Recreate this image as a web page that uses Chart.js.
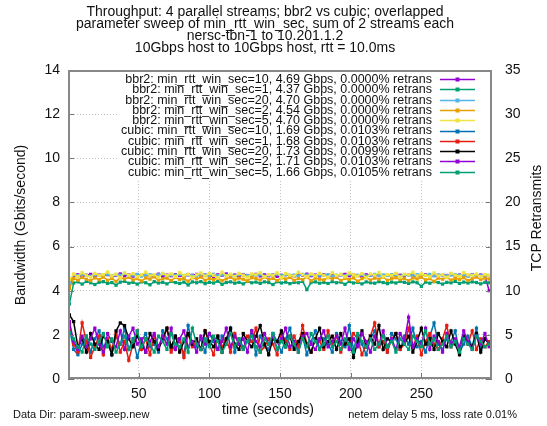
<!DOCTYPE html>
<html><head><meta charset="utf-8">
<script src="https://cdn.jsdelivr.net/npm/chart.js@4"></script>
<style>html,body{margin:0;padding:0;background:#fff}canvas{display:block}</style>
</head><body><canvas id="c" width="547" height="426"></canvas>
<script>
const titleLines = [
  "Throughput: 4 parallel streams; bbr2 vs cubic; overlapped",
  "parameter sweep of min_rtt_win_sec, sum of 2 streams each",
  "nersc-tbn-1 to 10.201.1.2",
  "10Gbps host to 10Gbps host, rtt = 10.0ms"
];
const seriesLabels = [
  "bbr2: min_rtt_win_sec=10, 4.69 Gbps, 0.0000% retrans",
  "bbr2: min_rtt_win_sec=1, 4.37 Gbps, 0.0000% retrans",
  "bbr2: min_rtt_win_sec=20, 4.70 Gbps, 0.0000% retrans",
  "bbr2: min_rtt_win_sec=2, 4.54 Gbps, 0.0000% retrans",
  "bbr2: min_rtt_win_sec=5, 4.70 Gbps, 0.0000% retrans",
  "cubic: min_rtt_win_sec=10, 1.69 Gbps, 0.0103% retrans",
  "cubic: min_rtt_win_sec=1, 1.68 Gbps, 0.0103% retrans",
  "cubic: min_rtt_win_sec=20, 1.73 Gbps, 0.0099% retrans",
  "cubic: min_rtt_win_sec=2, 1.71 Gbps, 0.0103% retrans",
  "cubic: min_rtt_win_sec=5, 1.66 Gbps, 0.0105% retrans"
];
const colors = ['#9400d3','#009e73','#56b4e9','#e69f00','#f0e442','#0072b2','#e51e10','#000000','#9400d3','#009e73'];
const xTicks = [50,100,150,200,250];
const yTicks = [0,2,4,6,8,10,12,14];
const y2Ticks = [0,5,10,15,20,25,30,35];

const times = [1,4,7,10,13,16,19,22,25,28,31,34,37,40,43,46,49,52,55,58,61,64,67,70,73,76,79,82,85,88,91,94,97,100,103,106,109,112,115,118,121,124,127,130,133,136,139,142,145,148,151,154,157,160,163,166,169,172,175,178,181,184,187,190,193,196,199,202,205,208,211,214,217,220,223,226,229,232,235,238,241,244,247,250,253,256,259,262,265,268,271,274,277,280,283,286,289,292,295,298];

const bbr2_10 = [4.2,4.68,4.72,4.65,4.70,4.74,4.66,4.71,4.69,4.73,4.64,4.70,4.76,4.68,4.71,4.66,4.73,4.69,4.72,4.67,4.70,4.75,4.65,4.71,4.68,4.73,4.69,4.66,4.72,4.70,4.74,4.67,4.71,4.69,4.65,4.72,4.70,4.76,4.68,4.71,4.66,4.73,4.69,4.70,4.74,4.67,4.72,4.68,4.71,4.65,4.70,4.73,4.69,4.66,4.72,4.70,4.75,4.68,4.71,4.67,4.73,4.69,4.70,4.66,4.72,4.74,4.68,4.71,4.69,4.65,4.72,4.70,4.67,4.73,4.69,4.71,4.66,4.74,4.70,4.68,4.72,4.69,4.65,4.71,4.73,4.68,4.70,4.67,4.72,4.69,4.74,4.66,4.71,4.70,4.68,4.73,4.69,4.71,4.67,4.0];
const bbr2_1 = [3.4,4.35,4.40,4.30,4.42,4.36,4.28,4.38,4.41,4.33,4.37,4.25,4.39,4.43,4.34,4.38,4.30,4.40,4.36,4.27,4.41,4.35,4.38,4.31,4.42,4.37,4.33,4.39,4.26,4.40,4.36,4.41,4.32,4.38,4.35,4.43,4.29,4.37,4.40,4.34,4.38,4.31,4.42,4.36,4.39,4.33,4.40,4.37,4.28,4.41,4.35,4.39,4.32,4.38,4.36,4.42,4.05,4.37,4.40,4.34,4.38,4.33,4.41,4.36,4.39,4.29,4.42,4.35,4.38,4.31,4.40,4.36,4.34,4.41,4.37,4.32,4.39,4.35,4.42,4.38,4.33,4.40,4.36,4.20,4.39,4.34,4.41,4.37,4.30,4.38,4.36,4.42,4.33,4.39,4.35,4.40,4.37,4.31,4.38,4.36];
const bbr2_20 = [4.3,4.72,4.68,4.74,4.70,4.66,4.73,4.69,4.71,4.75,4.67,4.72,4.70,4.78,4.68,4.71,4.74,4.66,4.70,4.73,4.69,4.72,4.76,4.67,4.71,4.70,4.74,4.68,4.72,4.69,4.66,4.73,4.71,4.70,4.75,4.68,4.72,4.69,4.71,4.67,4.74,4.70,4.68,4.72,4.69,4.73,4.66,4.71,4.70,4.75,4.68,4.72,4.69,4.71,4.67,4.74,4.70,4.72,4.68,4.71,4.69,4.73,4.66,4.70,4.72,4.68,4.75,4.71,4.69,4.72,4.67,4.70,4.74,4.68,4.71,4.69,4.73,4.70,4.66,4.72,4.70,4.68,4.73,4.71,4.69,4.74,4.67,4.72,4.70,4.68,4.71,4.73,4.69,4.70,4.66,4.72,4.70,4.68,4.71,4.69];
const bbr2_2 = [4.1,4.55,4.48,4.60,4.52,4.45,4.58,4.50,4.62,4.47,4.56,4.42,4.59,4.53,4.61,4.49,4.55,4.44,4.58,4.52,4.63,4.48,4.54,4.57,4.46,4.60,4.51,4.55,4.43,4.59,4.53,4.62,4.47,4.56,4.50,4.58,4.45,4.54,4.61,4.49,4.57,4.52,4.44,4.59,4.55,4.48,4.62,4.51,4.56,4.46,4.58,4.53,4.60,4.47,4.55,4.50,4.63,4.45,4.57,4.52,4.49,4.59,4.54,4.61,4.46,4.56,4.51,4.58,4.43,4.55,4.60,4.48,4.57,4.52,4.62,4.47,4.54,4.59,4.50,4.56,4.45,4.58,4.53,4.61,4.49,4.55,4.42,4.57,4.52,4.60,4.48,4.56,4.51,4.59,4.46,4.54,4.62,4.50,4.57,4.53];
const bbr2_5 = [4.5,4.76,4.64,4.82,4.70,4.61,4.79,4.69,4.73,4.85,4.66,4.75,4.58,4.81,4.70,4.78,4.63,4.72,4.84,4.67,4.73,4.60,4.79,4.70,4.76,4.64,4.82,4.69,4.75,4.61,4.72,4.81,4.66,4.78,4.70,4.58,4.84,4.67,4.75,4.64,4.79,4.70,4.61,4.76,4.72,4.82,4.63,4.73,4.69,4.81,4.60,4.78,4.70,4.66,4.84,4.72,4.64,4.76,4.67,4.79,4.70,4.61,4.82,4.69,4.75,4.63,4.81,4.72,4.66,4.78,4.58,4.76,4.70,4.82,4.64,4.73,4.69,4.79,4.61,4.75,4.72,4.84,4.66,4.76,4.70,4.63,4.81,4.67,4.73,4.60,4.79,4.70,4.64,4.82,4.72,4.69,4.76,4.63,4.73,4.70];
const cubic_10 = [2.3,1.34,1.1,1.58,1.94,1.22,1.82,2.18,1.46,1.7,1.1,1.94,1.58,2.3,1.34,1.82,0.98,1.7,2.06,1.46,1.58,1.22,2.18,1.82,1.34,1.94,1.7,1.1,2.42,1.58,1.46,1.82,1.22,2.06,1.7,1.34,1.94,1.58,2.3,1.22,1.82,1.46,1.7,2.18,1.1,1.94,1.58,1.34,2.06,1.7,1.22,1.82,2.3,1.46,1.58,1.94,1.1,1.7,2.18,1.34,1.82,1.58,1.22,2.06,1.7,1.46,2.42,1.34,1.94,1.58,1.1,1.82,2.18,1.46,1.7,1.22,2.06,1.82,1.34,1.94,1.58,2.3,1.46,1.7,1.22,1.94,2.54,1.58,1.34,1.82,1.7,2.18,1.22,1.58,1.94,1.46,2.3,1.34,1.82,1.58];
const cubic_1 = [2.5,1.58,1.22,2.54,1.7,0.98,1.46,1.94,1.1,1.82,1.34,2.06,1.22,1.7,0.85,1.58,2.18,1.34,1.82,1.1,1.94,1.46,1.7,2.3,1.22,1.58,1.82,0.98,2.06,1.46,1.7,1.34,2.18,1.58,1.1,1.94,1.46,1.82,1.22,2.06,1.58,1.34,1.94,1.7,2.3,1.22,1.46,1.82,1.58,1.1,2.06,1.7,1.34,1.94,1.46,2.42,1.58,1.22,1.82,1.7,1.34,2.18,1.58,1.94,1.22,1.7,1.46,2.06,1.82,1.1,1.58,1.94,2.54,1.46,1.7,1.22,1.82,2.06,1.34,1.58,2.3,1.46,1.94,1.1,1.7,2.06,1.58,1.34,1.82,2.42,1.46,1.7,1.22,1.94,1.58,2.18,1.34,1.82,1.46,1.7];
const cubic_20 = [2.9,2.6,1.46,1.82,1.22,2.06,1.58,1.34,1.94,1.7,1.1,2.18,2.54,2.42,1.82,1.46,1.94,1.58,1.22,2.06,1.7,1.34,1.82,2.3,1.46,1.94,1.22,1.7,2.06,1.58,1.82,1.34,2.18,1.7,1.46,1.94,1.22,1.82,2.3,1.58,1.34,2.06,1.7,1.46,1.94,2.42,1.58,1.1,1.82,1.7,2.18,1.46,1.94,1.34,1.7,2.06,1.58,1.22,1.82,2.3,1.46,1.7,1.94,1.34,2.06,1.58,1.82,0.98,1.7,2.18,1.46,1.94,1.58,2.42,1.34,1.82,1.7,2.06,1.46,1.58,1.94,1.22,1.7,2.3,1.58,1.82,1.34,2.06,1.7,1.46,2.18,1.58,1.1,1.94,1.7,1.46,2.06,1.22,1.82,1.58];
const cubic_2 = [2.6,1.7,1.34,1.94,1.46,1.82,2.3,1.58,1.22,2.06,1.7,1.46,2.18,1.34,1.94,2.3,1.58,1.82,1.22,1.7,2.06,1.46,1.94,1.58,2.3,1.34,1.82,2.18,1.46,1.7,1.22,1.94,1.58,2.06,1.82,1.34,1.7,2.3,1.46,1.94,1.58,1.82,1.22,2.18,1.7,1.46,2.06,1.58,1.94,1.34,1.82,2.3,1.46,1.7,1.22,1.94,2.06,1.58,1.34,1.82,2.18,1.46,1.7,1.94,1.58,2.3,1.34,1.82,1.46,2.06,1.7,1.22,1.94,1.58,2.18,1.46,1.82,1.34,2.06,1.7,2.8,1.46,1.82,1.58,2.3,1.34,1.94,1.7,1.22,2.06,1.58,1.82,1.46,2.18,1.7,1.34,1.94,1.58,2.06,1.46];
const cubic_5 = [2.1,1.82,1.46,1.22,1.94,1.58,1.34,1.7,2.06,1.46,1.82,1.22,1.58,1.94,1.34,1.7,2.18,1.46,1.82,1.58,1.22,1.94,1.7,1.34,2.06,1.58,1.46,1.82,1.22,2.3,1.58,1.34,1.82,1.46,1.94,1.7,1.22,1.58,2.06,1.46,1.82,1.34,1.7,1.94,1.46,1.22,1.82,1.58,2.06,1.34,1.7,1.46,1.94,1.58,1.22,1.82,1.46,2.06,1.7,1.34,1.58,1.94,1.46,1.7,1.34,1.82,1.58,1.22,2.06,1.7,1.46,1.82,1.34,1.58,1.94,1.46,1.7,1.22,1.82,1.58,1.34,1.94,1.7,1.46,2.18,1.58,1.82,1.34,1.58,1.94,1.46,1.7,1.22,1.82,1.58,1.34,1.94,1.7,1.46,1.58];

const seriesValues = [bbr2_10,bbr2_1,bbr2_20,bbr2_2,bbr2_5,cubic_10,cubic_1,cubic_20,cubic_2,cubic_5];
const FONT = '"Liberation Sans", Arial, Helvetica, sans-serif';

const datasets = seriesValues.map((vals,i)=>({
  label: seriesLabels[i],
  data: vals.map((v,j)=>({x: times[j], y: v})),
  borderColor: colors[i], backgroundColor: colors[i],
  borderWidth: 1.5, pointStyle: 'rect', pointRadius: 2.3, pointBorderWidth: 0,
  pointHoverRadius: 0, order: -i, yAxisID: 'y'
}));

const deco = {
  id: 'deco',
  afterDraw(chart){
    const ctx = chart.ctx, a = chart.chartArea;
    const xs = chart.scales.x, ys = chart.scales.y, y2s = chart.scales.y2;
    ctx.save();
    // inward tick marks
    ctx.strokeStyle = '#777'; ctx.lineWidth = 1;
    ctx.beginPath();
    yTicks.forEach(v=>{ const y = Math.round(ys.getPixelForValue(v))+0.5; ctx.moveTo(a.left, y); ctx.lineTo(a.left+6, y); });
    y2Ticks.forEach(v=>{ const y = Math.round(y2s.getPixelForValue(v))+0.5; ctx.moveTo(a.right, y); ctx.lineTo(a.right-6, y); });
    xTicks.forEach(v=>{ const x = Math.round(xs.getPixelForValue(v))+0.5; ctx.moveTo(x, a.bottom); ctx.lineTo(x, a.bottom-6); ctx.moveTo(x, a.top); ctx.lineTo(x, a.top+6); });
    ctx.stroke();
    // legend (key)
    const rowH = 10.3, top0 = a.top + 9;
    ctx.fillStyle = '#fff';
    ctx.fillRect(118, a.top+1, a.right-119, seriesLabels.length*rowH + 6);
    ctx.font = '12.5px ' + FONT; ctx.textAlign = 'right'; ctx.textBaseline = 'middle';
    seriesLabels.forEach((lab,i)=>{
      const y = top0 + i*rowH;
      ctx.fillStyle = '#111'; ctx.fillText(lab, 432, y+0.5);
      ctx.strokeStyle = colors[i]; ctx.lineWidth = 1.5;
      ctx.beginPath(); ctx.moveTo(440, Math.round(y)+0.5); ctx.lineTo(475, Math.round(y)+0.5); ctx.stroke();
      ctx.fillStyle = colors[i]; ctx.fillRect(455.5, Math.round(y)-1.5, 4, 4);
    });
    // border
    ctx.strokeStyle = '#888'; ctx.lineWidth = 2;
    ctx.strokeRect(a.left+1, a.top+1, a.right-a.left-2, a.bottom-a.top-2);
    // titles
    ctx.fillStyle = '#111'; ctx.textAlign = 'center'; ctx.textBaseline = 'middle';
    ctx.font = '14px ' + FONT;
    const ty = [12, 24, 36, 48.5];
    titleLines.forEach((t,i)=>ctx.fillText(t, 265, ty[i]));
    ctx.font = '14px ' + FONT;
    ctx.fillText('time (seconds)', 268, 410);
    ctx.save(); ctx.translate(21, 225); ctx.rotate(-Math.PI/2); ctx.fillText('Bandwidth (Gbits/second)', 0, 0); ctx.restore();
    ctx.save(); ctx.translate(537, 218); ctx.rotate(-Math.PI/2); ctx.fillText('TCP Retransmits', 0, 0); ctx.restore();
    ctx.font = '11px ' + FONT;
    ctx.textAlign = 'left'; ctx.fillText('Data Dir: param-sweep.new', 13, 415);
    ctx.textAlign = 'right'; ctx.fillText('netem delay 5 ms, loss rate 0.01%', 517, 415);
    ctx.restore();
  }
};

new Chart(document.getElementById('c'), {
  type: 'line',
  data: { datasets },
  options: {
    responsive: false, animation: false, devicePixelRatio: 1,
    layout: { padding: { top: 70, left: 0, right: 0, bottom: 0 } },
    plugins: { legend: { display: false }, tooltip: { enabled: false }, title: { display: false } },
    scales: {
      x: {
        type: 'linear', min: 0, max: 300,
        afterBuildTicks: s => { s.ticks = xTicks.map(v=>({value:v})); },
        afterFit: s => { s.height = 47; },
        ticks: { padding: 7, color: '#111', font: { size: 14, family: FONT }, maxRotation: 0 },
        grid: { color: '#c0c0c0', lineWidth: 1, drawTicks: false },
        border: { display: false, dash: [1,2] }
      },
      y: {
        position: 'left', min: 0, max: 14,
        afterBuildTicks: s => { s.ticks = yTicks.map(v=>({value:v})); },
        afterFit: s => { s.width = 68; },
        ticks: { padding: 8, color: '#111', font: { size: 14, family: FONT } },
        grid: { color: '#c0c0c0', lineWidth: 1, drawTicks: false },
        border: { display: false, dash: [1,2] }
      },
      y2: {
        position: 'right', min: 0, max: 35,
        afterBuildTicks: s => { s.ticks = y2Ticks.map(v=>({value:v})); },
        afterFit: s => { s.width = 55; },
        ticks: { padding: 13, color: '#111', font: { size: 14, family: FONT } },
        grid: { display: false, drawTicks: false },
        border: { display: false }
      }
    }
  },
  plugins: [deco]
});
</script>
</body></html>
